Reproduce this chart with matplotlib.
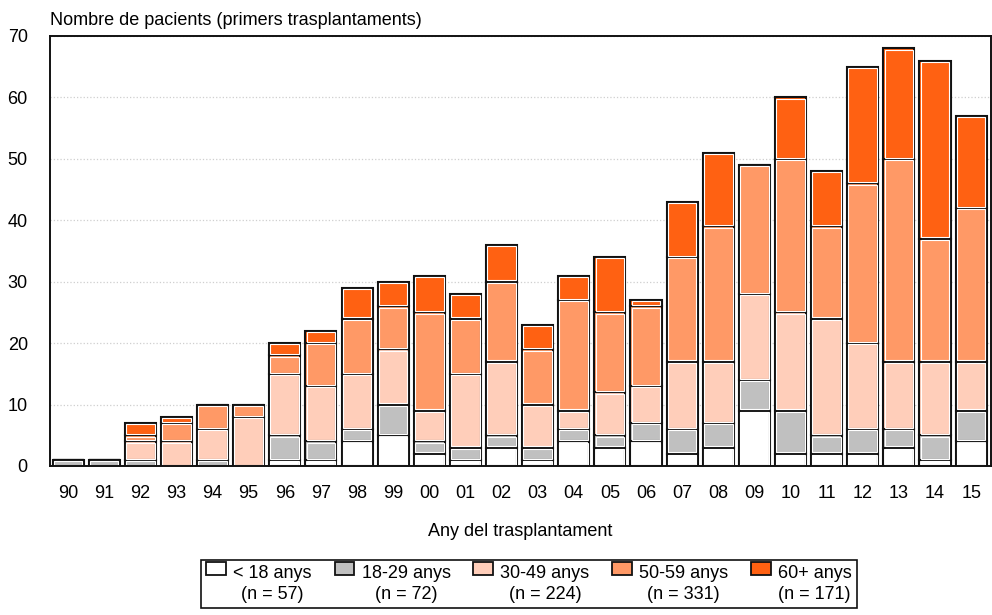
import matplotlib
matplotlib.use("Agg")
import matplotlib.pyplot as plt
import numpy as np
from matplotlib.patches import Rectangle
from matplotlib.legend_handler import HandlerPatch

plt.rcParams["font.family"] = ["Liberation Sans", "DejaVu Sans"]

years = ["90", "91", "92", "93", "94", "95", "96", "97", "98", "99", "00", "01", "02",
         "03", "04", "05", "06", "07", "08", "09", "10", "11", "12", "13", "14", "15"]

# patients per age group and year (first transplants)
under_18 = [0, 0, 0, 0, 0, 0, 1, 1, 4, 5, 2, 1, 3, 1, 4, 3, 4, 2, 3, 9, 2, 2, 2, 3, 1, 4]
age_18_29 = [1, 1, 1, 0, 1, 0, 4, 3, 2, 5, 2, 2, 2, 2, 2, 2, 3, 4, 4, 5, 7, 3, 4, 3, 4, 5]
age_30_49 = [0, 0, 3, 4, 5, 8, 10, 9, 9, 9, 5, 12, 12, 7, 3, 7, 6, 11, 10, 14, 16, 19, 14, 11, 12, 8]
age_50_59 = [0, 0, 1, 3, 4, 2, 3, 7, 9, 7, 16, 9, 13, 9, 18, 13, 13, 17, 22, 21, 25, 15, 26, 33, 20, 25]
age_60_plus = [0, 0, 2, 1, 0, 0, 2, 2, 5, 4, 6, 4, 6, 4, 4, 9, 1, 9, 12, 0, 10, 9, 19, 18, 29, 15]

group_labels = ["< 18 anys", "18-29 anys", "30-49 anys", "50-59 anys", "60+ anys"]
group_colors = ["#FFFFFF", "#C0C0C0", "#FFCEBA", "#FF9966", "#FF6112"]

series = [under_18, age_18_29, age_30_49, age_50_59, age_60_plus]

fig = plt.figure(figsize=(9.92, 6.15), dpi=100)
ax = fig.add_axes([50 / 992, 1 - 466 / 615, 941 / 992, 430 / 615])

BAR_W = 0.86
# inset of the thin white highlight just inside each segment's outline (data units)
IN_X, IN_Y = 0.034, 0.2

x = np.arange(len(years))
bottom = np.zeros(len(years))
handles = []
for vals, lab, col in zip(series, group_labels, group_colors):
    vals = np.array(vals, dtype=float)
    bars = ax.bar(x, vals, bottom=bottom, width=BAR_W, color=col,
                  edgecolor="#111111", linewidth=1.5, zorder=3,
                  label=f"{lab}\n(n = {int(vals.sum())})")
    handles.append(bars)
    m = vals > 0
    ax.bar(x[m], vals[m] - 2 * IN_Y, bottom=bottom[m] + IN_Y,
           width=BAR_W - 2 * IN_X, facecolor="none", edgecolor="white",
           linewidth=0.8, zorder=4)
    bottom += vals

ax.set_xlim(-0.5, 25.55)
ax.set_ylim(0, 70)
ax.set_yticks(range(0, 71, 10))
ax.set_xticks(x)
ax.set_xticklabels(years)
ax.tick_params(axis="both", length=0, labelsize=13)
ax.tick_params(axis="y", pad=16)
ax.tick_params(axis="x", pad=14)
ax.grid(axis="y", linestyle=":", color="#cfcfcf", linewidth=0.9, zorder=0)
for sp in ax.spines.values():
    sp.set_linewidth(1.4)
    sp.set_color("#111111")
    sp.set_zorder(5)

fig.text(50 / 992, 1 - 25 / 615, "Nombre de pacients (primers trasplantaments)",
         fontsize=13, ha="left", va="baseline")
fig.text(520 / 992, 1 - 531 / 615, "Any del trasplantament",
         fontsize=13, ha="center", va="center")


def legend_patch(legend, orig_handle, xdescent, ydescent, width, height, fontsize):
    # put the swatch next to the first line of the two-line label
    return Rectangle((-xdescent, -ydescent + fontsize * 0.85), width, height)


leg = fig.legend(handles=[h.patches[0] for h in handles],
                 labels=[h.get_label() for h in handles],
                 loc="center", bbox_to_anchor=(529 / 992, 1 - 584 / 615),
                 ncol=5, fontsize=13, frameon=True, fancybox=False,
                 edgecolor="#111111", framealpha=1, borderpad=0.3,
                 handlelength=1.1, handleheight=0.75, handletextpad=0.4,
                 columnspacing=1.25,
                 handler_map={Rectangle: HandlerPatch(patch_func=legend_patch)})
leg.get_frame().set_linewidth(1.2)
for h in leg.legend_handles:
    h.set_linewidth(1.3)
for t in leg.get_texts():
    t.set_multialignment("center")
    t.set_linespacing(1.25)

fig.savefig("out.png", dpi=100)
